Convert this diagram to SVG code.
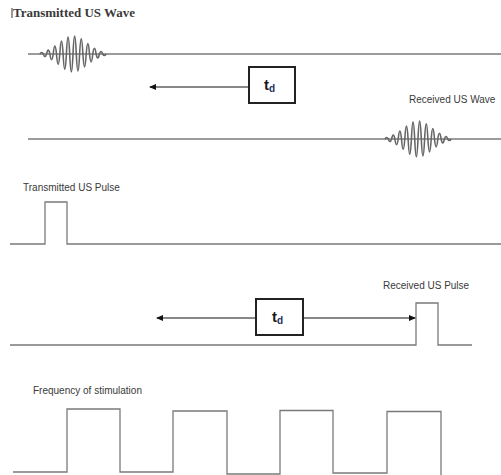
<svg xmlns="http://www.w3.org/2000/svg" width="501" height="475" viewBox="0 0 501 475">
  <style>
    .base { fill: none; stroke: #7a7a7a; stroke-width: 1.3; }
    .wave { fill: none; stroke: #666; stroke-width: 1.6; stroke-linejoin: round; }
    .box { fill: #fff; stroke: #222; stroke-width: 2; }
    .arrow { fill: none; stroke: #111; stroke-width: 1; }
    .lbl { font-family: "Liberation Sans", Arial, sans-serif; font-size: 10px; fill: #3a3a3a; }
    .title { font-family: "Liberation Serif", "Times New Roman", serif; font-size: 12.5px; font-weight: bold; fill: #3a3a3a; }
    .td { font-family: "Liberation Sans", Arial, sans-serif; font-size: 15px; font-weight: bold; fill: #1a1a1a; }
    .sub { font-size: 10px; fill: #1f2f5a; }
  </style>
  <defs>
    <marker id="ah" markerWidth="7" markerHeight="6" refX="6" refY="3" orient="auto" markerUnits="userSpaceOnUse">
      <path d="M0,0 L7,3 L0,6 Z" fill="#111"/>
    </marker>
    <path id="packet" class="wave" d="M0 0 q1.65,-3 3.3,0 q1.65,5 3.3,0 q1.65,-7.8 3.3,0 q1.65,11.4 3.3,0 q1.65,-15.8 3.3,0 q1.65,20.8 3.3,0 q1.65,-25.8 3.3,0 q1.65,30.4 3.3,0 q1.65,-33.8 3.3,0 q1.65,35.8 3.3,0 q1.65,-35.8 3.3,0 q1.65,33.8 3.3,0 q1.65,-30.4 3.3,0 q1.65,25.8 3.3,0 q1.65,-20.8 3.3,0 q1.65,15.8 3.3,0 q1.65,-11.4 3.3,0 q1.65,7.8 3.3,0 q1.65,-5 3.3,0 q1.65,3 3.3,0"/>
  </defs>

  <g id="title">
    <line x1="12" y1="8" x2="12" y2="18" stroke="#333" stroke-width="1"/>
    <text class="title" x="13" y="17" textLength="122" lengthAdjust="spacingAndGlyphs">Transmitted US Wave</text>
  </g>

  <g id="transmitted-wave">
    <line class="base" x1="28" y1="54" x2="501" y2="54"/>
    <use href="#packet" x="40" y="54"/>
  </g>

  <g id="td-box-1">
    <rect class="box" x="249" y="67" width="46" height="36"/>
    <text class="td" x="264" y="90">t<tspan class="sub" dy="2">d</tspan></text>
  </g>

  <g id="received-wave">
    <text class="lbl" x="409" y="103">Received US Wave</text>
    <line class="base" x1="28" y1="139" x2="501" y2="139"/>
    <use href="#packet" x="385" y="139"/>
  </g>

  <g id="transmitted-pulse">
    <text class="lbl" x="23" y="191">Transmitted US Pulse</text>
    <path class="base" d="M10 244 H45 V202 H67 V244 H501"/>
  </g>

  <g id="td-box-2">
    <rect class="box" x="256" y="299" width="47" height="36"/>
    <text class="td" x="272" y="322">t<tspan class="sub" dy="2">d</tspan></text>
  </g>

  <g id="received-pulse">
    <text class="lbl" x="383" y="289">Received US Pulse</text>
    <path class="base" d="M10 345 H416 V303 H438 V345 H472"/>
  </g>

  <g id="stimulation">
    <text class="lbl" x="33" y="394" font-size="10.5">Frequency of stimulation</text>
    <path class="base" d="M13 472 H67 V409 H120 V472 H173 V411 H227 V474 H280 V410.5 H333 V473 H387 V411.5 H441 V475"/>
  </g>

  <g id="connectors">
    <line class="arrow" x1="248" y1="87" x2="150" y2="87" marker-end="url(#ah)"/>
    <line class="arrow" x1="255" y1="318" x2="157" y2="318" marker-end="url(#ah)"/>
    <line class="arrow" x1="304" y1="318" x2="415" y2="318" marker-end="url(#ah)"/>
  </g>
</svg>
